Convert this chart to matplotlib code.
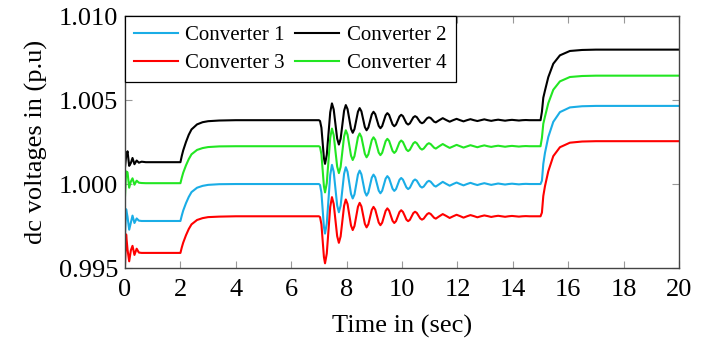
import matplotlib
matplotlib.use("Agg")
import matplotlib.pyplot as plt

# ---------------- data ----------------
# time axis (s), written in phases: start-up, step at 2 s, disturbance at 7 s, step at 15 s
t_start = [0.0, 0.04, 0.09, 0.15, 0.21, 0.27, 0.34, 0.42, 0.5, 0.6, 0.75]
t_step1 = [2.0, 2.05, 2.1, 2.2, 2.3, 2.4, 2.6, 2.8, 3.0, 3.4, 4.0]
t_osc = [
    7.0, 7.04, 7.09, 7.14, 7.18,
    7.220, 7.283, 7.345, 7.408, 7.470, 7.533, 7.595, 7.658,
    7.720, 7.783, 7.845, 7.908, 7.970, 8.033, 8.095, 8.158,
    8.220, 8.283, 8.345, 8.408, 8.470, 8.533, 8.595, 8.658,
    8.720, 8.783, 8.845, 8.908, 8.970, 9.033, 9.095, 9.158,
    9.220, 9.283, 9.345, 9.408, 9.470, 9.533, 9.595, 9.658,
    9.720, 9.783, 9.845, 9.908, 9.970, 10.033, 10.095, 10.158,
    10.220, 10.283, 10.345, 10.408, 10.470, 10.533, 10.595, 10.658,
    10.720, 10.783, 10.845, 10.908, 10.970, 11.033, 11.095, 11.158,
    11.220,
    11.345, 11.470, 11.595, 11.720, 11.845, 11.970, 12.095, 12.220,
    12.345, 12.470, 12.595, 12.720, 12.845, 12.970, 13.095, 13.220,
    13.345, 13.470, 13.595, 13.720, 13.845, 13.970, 14.095, 14.220,
    14.345, 14.470,
    14.6, 15.0,
]
t_step2 = [15.05, 15.1, 15.16, 15.28, 15.46, 15.7, 16.06, 16.5, 17.0, 20.0]
time_s = t_start + t_step1 + t_osc + t_step2

conv1 = [
    0.99700, 0.99850, 0.99805, 0.99728, 0.99770, 0.99812, 0.99768, 0.99795, 0.99782, 0.99780, 0.99780,
    0.99780, 0.99813, 0.99842, 0.99886, 0.99923, 0.99952, 0.99978, 0.99989, 0.99995, 0.99999, 1.00000,
    1.00000, 0.99994, 0.99949, 0.99835, 0.99745,
    0.99705, 0.99765, 0.99910, 1.00054, 1.00114, 1.00073, 0.99973, 0.99873,
    0.99832, 0.99871, 0.99966, 1.00061, 1.00100, 1.00073, 1.00007, 0.99941,
    0.99914, 0.99938, 0.99997, 1.00056, 1.00080, 1.00058, 1.00005, 0.99953,
    0.99931, 0.99949, 0.99994, 1.00038, 1.00056, 1.00040, 1.00000, 0.99961,
    0.99945, 0.99960, 0.99996, 1.00032, 1.00047, 1.00034, 1.00003, 0.99972,
    0.99959, 0.99970, 0.99998, 1.00025, 1.00036, 1.00026, 1.00003, 0.99980,
    0.99970, 0.99978, 0.99999, 1.00019, 1.00027, 1.00020, 1.00003, 0.99986,
    0.99979, 0.99985, 0.99999, 1.00013, 1.00019, 1.00014, 1.00002, 0.99990,
    0.99985,
    0.99999, 1.00013, 1.00001, 0.99990, 1.00000, 1.00009, 1.00000, 0.99992,
    1.00000, 1.00007, 1.00000, 0.99994, 1.00000, 1.00005, 1.00000, 0.99995,
    0.99999, 1.00003, 1.00000, 0.99997, 1.00000, 1.00002, 1.00000, 0.99998,
    1.00000, 1.00001,
    1.00000, 1.00000,
    1.00020, 1.00120, 1.00185, 1.00280, 1.00370, 1.00428, 1.00456, 1.00463, 1.00465, 1.00465,
]

conv2 = [
    1.00100, 1.00165, 1.00195, 1.00108, 1.00125, 1.00155, 1.00118, 1.00140, 1.00127, 1.00133, 1.00130,
    1.00130, 1.00168, 1.00200, 1.00250, 1.00293, 1.00325, 1.00355, 1.00368, 1.00374, 1.00378, 1.00380,
    1.00380, 1.00375, 1.00335, 1.00235, 1.00155,
    1.00120, 1.00173, 1.00300, 1.00427, 1.00480, 1.00444, 1.00358, 1.00271,
    1.00235, 1.00269, 1.00353, 1.00436, 1.00470, 1.00446, 1.00387, 1.00329,
    1.00305, 1.00327, 1.00379, 1.00430, 1.00452, 1.00433, 1.00386, 1.00339,
    1.00320, 1.00336, 1.00375, 1.00414, 1.00430, 1.00416, 1.00381, 1.00346,
    1.00332, 1.00345, 1.00377, 1.00409, 1.00422, 1.00411, 1.00383, 1.00355,
    1.00344, 1.00354, 1.00378, 1.00402, 1.00412, 1.00404, 1.00383, 1.00362,
    1.00354, 1.00361, 1.00379, 1.00397, 1.00404, 1.00398, 1.00383, 1.00368,
    1.00362, 1.00367, 1.00380, 1.00392, 1.00397, 1.00393, 1.00382, 1.00371,
    1.00367,
    1.00380, 1.00392, 1.00381, 1.00371, 1.00380, 1.00388, 1.00380, 1.00373,
    1.00380, 1.00386, 1.00380, 1.00375, 1.00380, 1.00385, 1.00380, 1.00376,
    1.00380, 1.00383, 1.00380, 1.00377, 1.00380, 1.00382, 1.00380, 1.00378,
    1.00380, 1.00381,
    1.00380, 1.00380,
    1.00430, 1.00514, 1.00556, 1.00636, 1.00716, 1.00766, 1.00792, 1.00798, 1.00800, 1.00800,
]

conv3 = [
    0.99520, 0.99700, 0.99610, 0.99540, 0.99605, 0.99632, 0.99578, 0.99615, 0.99592, 0.99590, 0.99590,
    0.99590, 0.99623, 0.99651, 0.99695, 0.99732, 0.99760, 0.99786, 0.99797, 0.99803, 0.99806, 0.99808,
    0.99808, 0.99803, 0.99760, 0.99652, 0.99566,
    0.99528, 0.99586, 0.99725, 0.99864, 0.99922, 0.99882, 0.99786, 0.99690,
    0.99650, 0.99688, 0.99779, 0.99870, 0.99908, 0.99881, 0.99817, 0.99753,
    0.99726, 0.99750, 0.99807, 0.99864, 0.99888, 0.99867, 0.99815, 0.99763,
    0.99742, 0.99760, 0.99803, 0.99846, 0.99864, 0.99848, 0.99810, 0.99771,
    0.99755, 0.99770, 0.99805, 0.99840, 0.99855, 0.99842, 0.99812, 0.99781,
    0.99768, 0.99779, 0.99806, 0.99833, 0.99844, 0.99834, 0.99812, 0.99788,
    0.99779, 0.99787, 0.99807, 0.99827, 0.99835, 0.99828, 0.99812, 0.99795,
    0.99788, 0.99794, 0.99808, 0.99821, 0.99827, 0.99822, 0.99811, 0.99799,
    0.99794,
    0.99808, 0.99821, 0.99810, 0.99798, 0.99808, 0.99817, 0.99809, 0.99800,
    0.99808, 0.99815, 0.99809, 0.99802, 0.99808, 0.99813, 0.99809, 0.99804,
    0.99808, 0.99811, 0.99808, 0.99805, 0.99808, 0.99810, 0.99808, 0.99806,
    0.99808, 0.99809,
    0.99808, 0.99808,
    0.99830, 0.99929, 0.99987, 1.00076, 1.00166, 1.00219, 1.00246, 1.00253, 1.00255, 1.00255,
]

conv4 = [
    0.99930, 1.00075, 1.00070, 0.99978, 1.00015, 1.00034, 0.99996, 1.00020, 1.00008, 1.00006, 1.00005,
    1.00005, 1.00038, 1.00067, 1.00111, 1.00148, 1.00177, 1.00203, 1.00214, 1.00220, 1.00224, 1.00225,
    1.00225, 1.00220, 1.00177, 1.00072, 0.99987,
    0.99950, 1.00005, 1.00140, 1.00275, 1.00330, 1.00291, 1.00197, 1.00104,
    1.00065, 1.00102, 1.00192, 1.00283, 1.00320, 1.00294, 1.00232, 1.00169,
    1.00143, 1.00166, 1.00222, 1.00278, 1.00301, 1.00280, 1.00230, 1.00180,
    1.00159, 1.00176, 1.00218, 1.00261, 1.00278, 1.00263, 1.00225, 1.00187,
    1.00172, 1.00186, 1.00220, 1.00255, 1.00269, 1.00257, 1.00227, 1.00197,
    1.00185, 1.00196, 1.00222, 1.00248, 1.00259, 1.00250, 1.00228, 1.00205,
    1.00196, 1.00204, 1.00223, 1.00242, 1.00250, 1.00243, 1.00228, 1.00212,
    1.00205, 1.00211, 1.00224, 1.00237, 1.00243, 1.00238, 1.00227, 1.00216,
    1.00211,
    1.00225, 1.00238, 1.00226, 1.00215, 1.00224, 1.00233, 1.00225, 1.00217,
    1.00224, 1.00231, 1.00225, 1.00219, 1.00225, 1.00230, 1.00225, 1.00221,
    1.00225, 1.00228, 1.00225, 1.00222, 1.00225, 1.00227, 1.00225, 1.00223,
    1.00225, 1.00226,
    1.00225, 1.00225,
    1.00275, 1.00359, 1.00401, 1.00481, 1.00561, 1.00611, 1.00637, 1.00643, 1.00645, 1.00645,
]

labels = ["Converter 1", "Converter 2", "Converter 3", "Converter 4"]
colors = ["#1AADE6", "black", "#FF0000", "#22E622"]

x_ticks = [0, 2, 4, 6, 8, 10, 12, 14, 16, 18, 20]
y_ticks = [0.995, 1.000, 1.005, 1.010]

# ---------------- figure ----------------
plt.rcParams["font.family"] = ["Liberation Serif", "DejaVu Serif"]

fig = plt.figure(figsize=(7.12, 3.41), dpi=100)
ax = fig.add_axes([0.1756, 0.214, 0.7781, 0.739])

lines = []
for vals, lab, col in zip([conv1, conv2, conv3, conv4], labels, colors):
    ln, = ax.plot(time_s, vals, color=col, lw=1.5, label=lab)
    lines.append(ln)

ax.set_xlim(0, 20)
ax.set_ylim(0.995, 1.010)
ax.set_xticks(x_ticks)
ax.set_yticks(y_ticks)
ax.set_yticklabels([f"{v:.3f}" for v in y_ticks])

ax.tick_params(direction="in", length=5, width=0.8, color="#999999",
               top=True, right=True, labelsize=19)
ax.tick_params(axis="x", pad=8)
ax.tick_params(axis="y", pad=5)
for sp in ax.spines.values():
    sp.set_color("#444444")
    sp.set_linewidth(1.0)

ax.set_xlabel("Time in (sec)", fontsize=19, labelpad=10)
ax.set_ylabel("dc voltages in (p.u)", fontsize=19, labelpad=8)

# legend fills column-wise: C1, C3 in first column, C2, C4 in second
order = [0, 2, 1, 3]
leg = ax.legend([lines[i] for i in order], [labels[i] for i in order],
                ncol=2, loc="upper left", bbox_to_anchor=(0, 1),
                borderaxespad=0, fontsize=15, fancybox=False,
                edgecolor="black", framealpha=1, handlelength=2.1,
                columnspacing=0.5, handletextpad=0.35, borderpad=0.45,
                labelspacing=0.4)
leg.get_frame().set_linewidth(0.9)

fig.savefig("out.png", dpi=100)
